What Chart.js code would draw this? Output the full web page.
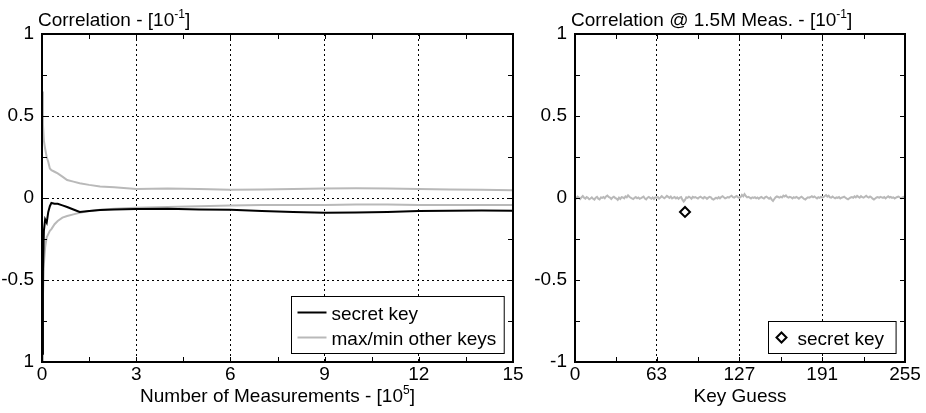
<!DOCTYPE html>
<html>
<head>
<meta charset="utf-8">
<script src="https://cdn.jsdelivr.net/npm/chart.js"></script>
<style>
  body { margin: 0; background: #fff; width: 926px; height: 413px; overflow: hidden; position: relative; }
  #leftBox { position: absolute; left: 0; top: 0; width: 530px; height: 413px; }
  #rightBox { position: absolute; left: 530px; top: 0; width: 396px; height: 413px; }
</style>
</head>
<body>
<div id="leftBox"><canvas id="chartLeft" width="530" height="413"></canvas></div>
<div id="rightBox"><canvas id="chartRight" width="396" height="413"></canvas></div>
<script>
// number of measurements, in 10^5
const measurements = [0.01, 0.03, 0.06, 0.1, 0.15, 0.2, 0.25, 0.3, 0.4, 0.5, 0.65, 0.8, 1.0, 1.2, 1.5, 1.85, 2.3, 3.0, 4.0, 5.0, 6.0, 7.0, 8.0, 9.0, 10.0, 11.0, 12.0, 13.0, 14.0, 15.0];
const secretKeyCorr = [-0.95, -0.45, -0.2, -0.13, -0.15, -0.085, -0.05, -0.03, -0.035, -0.035, -0.045, -0.055, -0.07, -0.085, -0.08, -0.073, -0.07, -0.067, -0.065, -0.07, -0.072, -0.08, -0.085, -0.09, -0.088, -0.085, -0.08, -0.078, -0.076, -0.077];
const maxOtherCorr = [0.65, 0.45, 0.35, 0.3, 0.25, 0.22, 0.18, 0.17, 0.16, 0.15, 0.13, 0.11, 0.1, 0.09, 0.08, 0.07, 0.065, 0.055, 0.058, 0.055, 0.05, 0.052, 0.055, 0.058, 0.06, 0.058, 0.055, 0.052, 0.05, 0.048];
const minOtherCorr = [-1.0, -0.6, -0.4, -0.3, -0.24, -0.22, -0.2, -0.19, -0.16, -0.14, -0.12, -0.11, -0.1, -0.09, -0.08, -0.072, -0.065, -0.06, -0.055, -0.05, -0.045, -0.043, -0.042, -0.042, -0.04, -0.04, -0.042, -0.043, -0.043, -0.042];

// correlation of every key guess at 1.5M measurements (key 0..255)
const guessCorr = [
  0.005,-0.002,0.008,0.003,-0.006,0.004,0.012,0.002,-0.004,0.006,0.001,-0.008,-0.003,0.004,-0.005,-0.01,0.002,0.007,-0.004,-0.009,0.003,0.001,0.006,-0.002,0.009,0.015,0.006,0.002,-0.006,0.003,0.008,0.001,
  -0.004,-0.012,0.002,-0.006,0.005,0.003,-0.002,0.01,0.004,0.016,0.008,0.002,-0.003,-0.007,0.001,0.006,-0.002,0.003,-0.005,-0.001,0.004,0.009,-0.003,-0.008,0.002,0.006,0.001,-0.004,0.003,-0.006,0.004,0.002,
  0.006,-0.004,0.003,0.011,0.004,-0.002,0.005,0.013,0.007,0.001,0.009,-0.003,0.002,0.006,-0.002,0.004,-0.005,0.003,0.006,-0.01,-0.022,-0.012,0.004,0.001,0.008,0.003,-0.004,0.007,0.002,0.005,0.001,-0.003,
  0.004,0.008,0.002,-0.003,0.006,0.003,-0.005,0.002,0.007,0.004,-0.006,-0.01,-0.004,0.002,-0.003,0.005,-0.002,0.006,0.011,0.004,-0.002,0.001,0.006,0.003,0.009,0.014,0.005,0.002,0.008,0.012,0.004,0.001,
  0.006,0.019,0.01,0.024,0.012,0.004,0.007,0.002,-0.003,0.004,0.001,0.005,-0.002,0.003,-0.004,0.002,0.006,0.001,-0.003,0.005,0.008,0.002,-0.004,0.003,-0.01,-0.018,-0.006,0.004,0.01,0.006,0.002,0.008,
  0.003,0.014,0.009,0.016,0.006,0.002,0.007,0.004,-0.003,0.005,0.001,0.006,0.002,-0.004,0.003,0.008,0.001,-0.006,-0.009,-0.002,0.004,0.002,0.006,0.011,0.004,0.009,0.003,-0.003,0.005,0.001,0.007,0.003,
  0.005,0.012,0.018,0.008,0.014,0.004,0.002,0.009,0.003,-0.002,0.004,0.001,0.006,-0.003,0.002,0.004,0.008,0.002,-0.004,-0.008,-0.002,0.003,0.006,0.002,0.01,0.004,0.013,0.007,0.002,0.011,0.005,0.002,
  0.008,0.014,0.006,0.002,0.009,0.004,-0.004,-0.009,-0.003,0.003,0.006,0.001,0.007,0.004,0.001,0.006,-0.002,0.005,0.01,0.003,0.007,0.001,0.004,-0.003,0.002,0.006,0.009,0.003,-0.002,0.004,0.007,0.003
];
const secretKeyGuess = 85;
const secretKeyValue = -0.085;

// ticks
const leftXTicks = [0, 1.5, 3, 4.5, 6, 7.5, 9, 10.5, 12, 13.5, 15];
const leftXLabels = [0, 3, 6, 9, 12, 15];
const rightXTicks = [0, 31.5, 63, 95, 127, 159, 191, 223, 255];
const rightXLabels = [0, 63, 127, 191, 255];
const yTicks = [-1, -0.75, -0.5, -0.25, 0, 0.25, 0.5, 0.75, 1];
const yLabels = [-1, -0.5, 0, 0.5, 1];

const FONT = '"Liberation Sans", Arial, sans-serif';
const GRAY = '#b9b9b9';
Chart.defaults.font.family = FONT;
Chart.defaults.font.size = 19;
Chart.defaults.color = '#000';

function drawRich(ctx, parts, x, y, align) {
  let total = 0;
  parts.forEach(p => {
    ctx.font = (p[1] ? '12px ' : '19px ') + FONT;
    total += ctx.measureText(p[0]).width;
  });
  let cx = align === 'center' ? x - total / 2 : x;
  ctx.textAlign = 'left';
  ctx.textBaseline = 'alphabetic';
  parts.forEach(p => {
    ctx.font = (p[1] ? '12px ' : '19px ') + FONT;
    ctx.fillText(p[0], cx, p[1] ? y - 8 : y);
    cx += ctx.measureText(p[0]).width;
  });
}

const frameAndText = {
  id: 'frameAndText',
  afterDraw(chart, args, opts) {
    const { ctx, chartArea: a, scales } = chart;
    ctx.save();
    ctx.setLineDash([]);
    ctx.strokeStyle = '#000';
    ctx.lineWidth = 1;
    ctx.beginPath();
    scales.x.ticks.forEach(t => {
      const px = Math.round(scales.x.getPixelForValue(t.value)) + 0.5;
      if (px <= a.left + 2 || px >= a.right - 2) return;
      ctx.moveTo(px, a.bottom); ctx.lineTo(px, a.bottom - 5);
      ctx.moveTo(px, a.top); ctx.lineTo(px, a.top + 5);
    });
    scales.y.ticks.forEach(t => {
      const py = Math.round(scales.y.getPixelForValue(t.value)) + 0.5;
      if (py <= a.top + 2 || py >= a.bottom - 2) return;
      ctx.moveTo(a.left, py); ctx.lineTo(a.left + 5, py);
      ctx.moveTo(a.right, py); ctx.lineTo(a.right - 5, py);
    });
    ctx.stroke();
    ctx.lineWidth = 2;
    ctx.strokeRect(a.left, a.top, a.width, a.height);

    ctx.fillStyle = '#000';
    drawRich(ctx, opts.title, a.left - 4, 26, 'left');
    drawRich(ctx, opts.xTitle, (a.left + a.right) / 2, 402, 'center');

    // legend box in lower right corner
    const leg = opts.legend;
    const items = chart.data.datasets.filter(d => d.label);
    ctx.font = '19px ' + FONT;
    const textW = Math.max(...items.map(d => ctx.measureText(d.label).width));
    const w = leg.padLeft + leg.sample + leg.gap + textW + leg.padRight;
    const h = items.length * 25 + 7;
    const x0 = Math.round(a.right - 9 - w) + 0.5;
    const y0 = Math.round(a.bottom - 9 - h) + 0.5;
    ctx.fillStyle = '#fff';
    ctx.fillRect(x0, y0, w, h);
    ctx.lineWidth = 1;
    ctx.strokeStyle = '#000';
    ctx.strokeRect(x0, y0, w, h);
    items.forEach((d, i) => {
      const cy = y0 + 3.5 + 25 * (i + 0.5);
      const sx = x0 + leg.padLeft;
      if (d.showLine === false) {
        const r = 5, mx = sx + leg.sample / 2;
        ctx.beginPath();
        ctx.moveTo(mx, cy - r); ctx.lineTo(mx + r, cy); ctx.lineTo(mx, cy + r); ctx.lineTo(mx - r, cy); ctx.closePath();
        ctx.lineWidth = 2; ctx.strokeStyle = d.borderColor; ctx.stroke();
      } else {
        ctx.beginPath();
        ctx.moveTo(sx, cy); ctx.lineTo(sx + leg.sample, cy);
        ctx.lineWidth = 2; ctx.strokeStyle = d.borderColor; ctx.stroke();
      }
      ctx.fillStyle = '#000';
      ctx.font = '19px ' + FONT;
      ctx.textBaseline = 'alphabetic';
      ctx.fillText(d.label, sx + leg.sample + leg.gap, cy + 7);
    });
    ctx.restore();
  }
};

function xyPoints(xs, ys) {
  return xs.map((x, i) => ({ x: x, y: ys[i] }));
}

function axes(xTicks, xLabels, yWidth, yLabelFn, hGrid) {
  return {
    x: {
      type: 'linear',
      min: xTicks[0],
      max: xTicks[xTicks.length - 1],
      afterBuildTicks: s => { s.ticks = xTicks.map(v => ({ value: v })); },
      afterFit: s => { s.height = 51; },
      ticks: {
        autoSkip: false, maxRotation: 0, padding: 1,
        callback: v => xLabels.includes(v) ? String(v) : ''
      },
      grid: {
        drawTicks: false,
        lineWidth: 1,
        color: c => (c.tick && xLabels.includes(c.tick.value) && c.index > 0 && c.index < xTicks.length - 1) ? '#000' : 'rgba(0,0,0,0)'
      },
      border: { display: false, dash: [2, 3] }
    },
    y: {
      min: -1, max: 1,
      afterBuildTicks: s => { s.ticks = yTicks.map(v => ({ value: v })); },
      afterFit: s => { s.width = yWidth; },
      ticks: {
        autoSkip: false, padding: 8,
        callback: v => yLabels.includes(v) ? yLabelFn(v) : ''
      },
      grid: {
        drawTicks: false,
        lineWidth: 1,
        color: c => (hGrid && c.tick && yLabels.includes(c.tick.value) && Math.abs(c.tick.value) < 1) ? '#000' : 'rgba(0,0,0,0)'
      },
      border: { display: false, dash: [2, 3] }
    }
  };
}

new Chart(document.getElementById('chartLeft'), {
  type: 'line',
  data: {
    datasets: [
      { label: 'secret key', data: xyPoints(measurements, secretKeyCorr), borderColor: '#000', borderWidth: 2, pointRadius: 0, tension: 0 },
      { label: 'max/min other keys', data: xyPoints(measurements, maxOtherCorr), borderColor: GRAY, borderWidth: 2, pointRadius: 0, tension: 0 },
      { label: '', data: xyPoints(measurements, minOtherCorr), borderColor: GRAY, borderWidth: 2, pointRadius: 0, tension: 0 }
    ]
  },
  options: {
    responsive: false,
    animation: false,
    layout: { padding: { left: 0, top: 34, right: 17, bottom: 0 } },
    scales: axes(leftXTicks, leftXLabels, 42, v => v === -1 ? '1' : String(v), true),
    plugins: {
      legend: { display: false },
      tooltip: { enabled: false },
      frameAndText: {
        title: [['Correlation - [10', false], ['-1', true], [']', false]],
        xTitle: [['Number of Measurements - [10', false], ['5', true], [']', false]],
        legend: { padLeft: 6, sample: 29, gap: 5, padRight: 8 }
      }
    }
  },
  plugins: [frameAndText]
});

new Chart(document.getElementById('chartRight'), {
  type: 'line',
  data: {
    datasets: [
      { label: 'secret key', data: [{ x: secretKeyGuess, y: secretKeyValue }], showLine: false, pointStyle: 'rectRot', pointRadius: 5, pointBorderWidth: 2, borderColor: '#000', backgroundColor: '#fff', pointBackgroundColor: '#fff' },
      { label: '', data: guessCorr.map((v, i) => ({ x: i, y: v })), borderColor: GRAY, borderWidth: 2, pointRadius: 0, tension: 0 }
    ]
  },
  options: {
    responsive: false,
    animation: false,
    layout: { padding: { left: 0, top: 34, right: 21, bottom: 0 } },
    scales: axes(rightXTicks, rightXLabels, 45, v => String(v), false),
    plugins: {
      legend: { display: false },
      tooltip: { enabled: false },
      frameAndText: {
        title: [['Correlation @ 1.5M Meas. - [10', false], ['-1', true], [']', false]],
        xTitle: [['Key Guess', false]],
        legend: { padLeft: 6, sample: 14, gap: 9, padRight: 12 }
      }
    }
  },
  plugins: [frameAndText]
});
</script>
</body>
</html>
